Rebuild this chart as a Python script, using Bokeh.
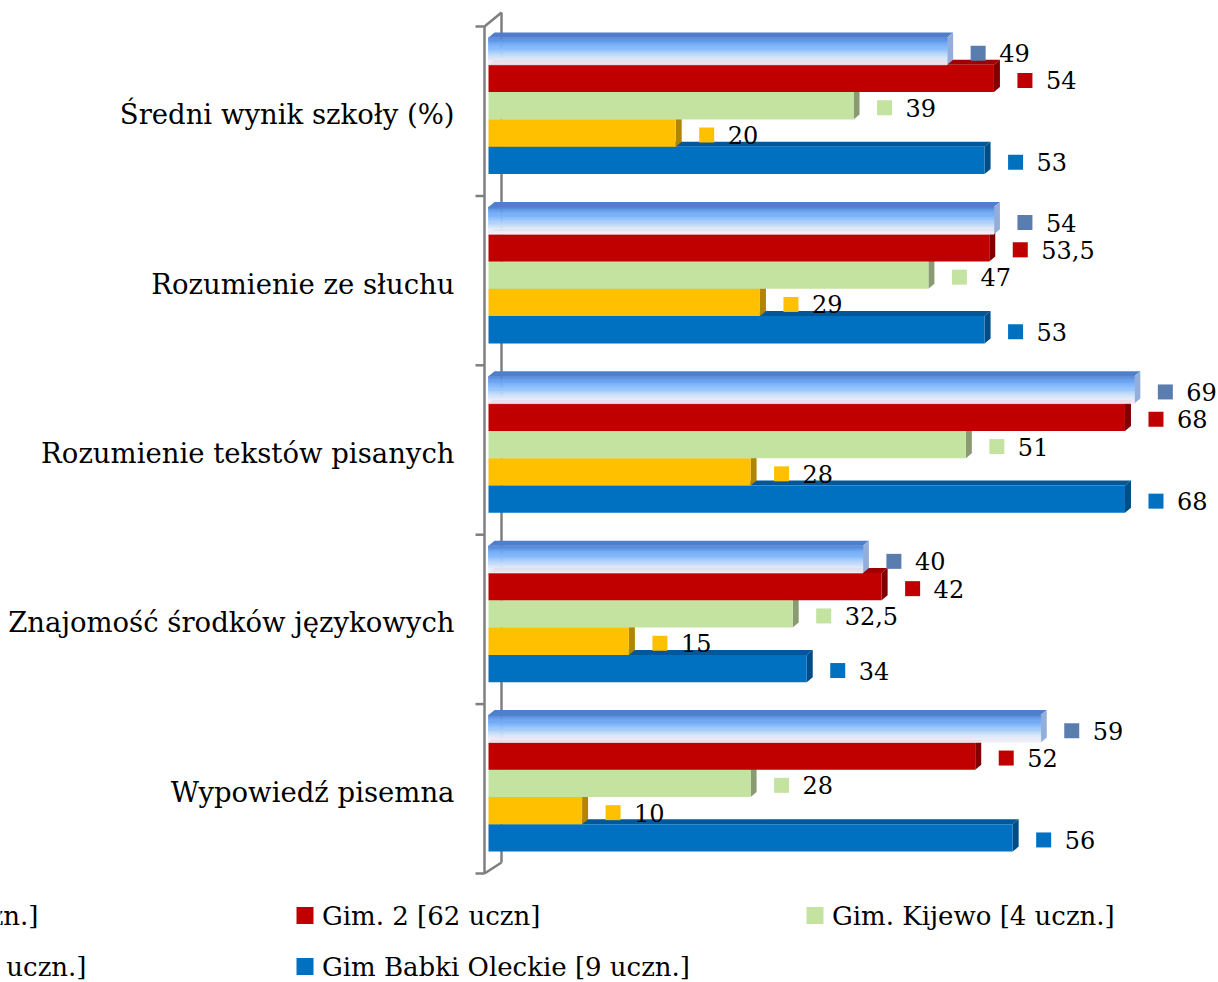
from bokeh.plotting import figure
from bokeh.models import Range1d
from bokeh.core.properties import value
from bokeh.embed import file_html
from bokeh.resources import INLINE

# ---------------- data ----------------
categories = ["Średni wynik szkoły (%)", "Rozumienie ze słuchu",
              "Rozumienie tekstów pisanych", "Znajomość środków językowych",
              "Wypowiedź pisemna"]
series_names = ["Gim. 1 [143 uczn.]", "Gim. 2 [62 uczn]", "Gim. Kijewo [4 uczn.]",
                "Gim. Judziki [7 uczn.]", "Gim Babki Oleckie [9 uczn.]"]
gim1 = [49, 54, 69, 40, 59]
gim2 = [54, 53.5, 68, 42, 52]
kijewo = [39, 47, 51, 32.5, 28]
judziki = [20, 29, 28, 15, 10]
babki = [53, 53, 68, 34, 56]
series_values = [gim1, gim2, kijewo, judziki, babki]

# ---------------- style ----------------
FONT = "DejaVu Serif"
front_col = [None, "#C00000", "#C4E3A0", "#FFC000", "#0070C0"]
side_col = ["#93AEDB", "#800000", "#8A9B72", "#B08500", "#004C86"]
top_col = ["#4F7FCB", "#9E0000", "#A8C488", "#D9A300", "#00589A"]
mark_col = ["#5A7DB0", "#C00000", "#C4E3A0", "#FFC000", "#0070C0"]
grad_anchor = [(0.0, (78, 128, 208)), (0.2, (108, 164, 242)), (0.4, (132, 186, 252)),
               (0.65, (190, 218, 248)), (0.85, (232, 236, 248)), (1.0, (244, 238, 248))]
N_STRIPS = 24


def grad_color(t):
    for (t0, c0), (t1, c1) in zip(grad_anchor[:-1], grad_anchor[1:]):
        if t <= t1:
            f = (t - t0) / (t1 - t0)
            return "#%02X%02X%02X" % tuple(int(round(a + (b - a) * f)) for a, b in zip(c0, c1))
    return "#%02X%02X%02X" % grad_anchor[-1][1]


grad_stops = [grad_color((k + 0.5) / N_STRIPS) for k in range(N_STRIPS)]

W, H = 1218, 982
X0 = 488.0       # pixel of value 0
PX_X = 9.36      # px per value unit
Y0 = 26.0        # pixel of first category boundary
PX_Y = 169.4     # px per category


def sx(px):
    return (px - X0) / PX_X


def sy(py):
    return (py - Y0) / PX_Y


BAR_OFF = 11 / PX_Y
BAR_H = 27.3 / PX_Y
DX = 6 / PX_X
DY = 5 / PX_Y


def fmt(v):
    return (str(int(v)) if float(v).is_integer() else str(v)).replace(".", ",")


p = figure(width=W, height=H, output_backend="svg", toolbar_location=None,
           x_range=Range1d(sx(0), sx(W)),
           y_range=Range1d(start=sy(H), end=sy(0)),
           x_axis_location=None, y_axis_location=None,
           min_border_left=0, min_border_right=0,
           min_border_top=0, min_border_bottom=0)
p.outline_line_color = None
p.xgrid.visible = False
p.ygrid.visible = False
p.background_fill_color = "white"
p.border_fill_color = "white"

n = len(categories)

# 3D wall (drawn first, behind bars)
wall_col = "#7F7F7F"
fx = sx(484)
bx = sx(501)
p.line([bx, bx], [sy(12), sy(862)], line_color=wall_col, line_width=2.5)
p.line([fx, bx], [0, sy(12)], line_color=wall_col, line_width=2.5)
p.line([fx, bx], [n, sy(862)], line_color=wall_col, line_width=2.5)
p.line([fx, fx], [0, n], line_color=wall_col, line_width=2.5)
p.segment(x0=[sx(475)] * (n + 1), x1=[fx] * (n + 1), y0=list(range(n + 1)),
          y1=list(range(n + 1)), line_color=wall_col, line_width=2.5)

# bars: paint from bottom series upward so upper bars hide the depth faces
for j in range(4, -1, -1):
    vals = series_values[j]
    tops = [i + BAR_OFF + j * BAR_H for i in range(n)]
    bots = [t + BAR_H for t in tops]
    p.patches(xs=[[0, DX, v + DX, v] for v in vals],
              ys=[[t, t - DY, t - DY, t] for t in tops],
              fill_color=top_col[j], line_color=None)
    p.patches(xs=[[v, v + DX, v + DX, v] for v in vals],
              ys=[[t, t - DY, b - DY, b] for t, b in zip(tops, bots)],
              fill_color=side_col[j], line_color=None)
    if j == 0:
        ns = len(grad_stops)
        L, R, T, B, C = [], [], [], [], []
        for v, t in zip(vals, tops):
            for k in range(ns):
                L.append(0); R.append(v)
                T.append(t + k * BAR_H / ns); B.append(t + (k + 1) * BAR_H / ns)
                C.append(grad_stops[k])
        p.quad(left=L, right=R, top=T, bottom=B, fill_color=C, line_color=C,
               line_width=0.6)
    else:
        p.quad(left=[0] * n, right=vals, top=tops, bottom=bots,
               fill_color=front_col[j], line_color=None)

# data labels
for j in range(5):
    vals = series_values[j]
    ys = [i + BAR_OFF + (j + 0.5) * BAR_H + 2 / PX_Y for i in range(n)]
    p.scatter(x=[v + 31 / PX_X for v in vals], y=ys, marker="square", size=15,
              fill_color=mark_col[j], line_color=None)
    p.text(x=[v + 52 / PX_X for v in vals], y=ys, text=[fmt(v) for v in vals],
           text_font=value(FONT), text_font_size="24px", text_color="black",
           text_baseline="middle", text_align="left")

# category labels
p.text(x=[sx(454)] * n, y=[i + 0.5 + 3 / PX_Y for i in range(n)], text=categories,
       text_font=value(FONT), text_font_size="27.5px", text_color="black",
       text_baseline="middle", text_align="right")

# ---------------- legend ----------------
col_marker = [-214 + 8.5, 304.5, 814.5]
row_y = [915, 966]
mx, my = [], []
for j in range(5):
    mx.append(sx(col_marker[j % 3]))
    my.append(sy(row_y[j // 3]))
p.scatter(x=mx, y=my, marker="square", size=17, fill_color=mark_col,
          line_color=None)
# first column is cut off by the left edge of the picture
p.text(x=[sx(38), sx(86)], y=[my[0], my[3]], text=[series_names[0], series_names[3]],
       text_font=value(FONT), text_font_size="26px", text_color="black",
       text_baseline="middle", text_align="right")
others = [1, 2, 4]
p.text(x=[mx[j] + 17 / PX_X for j in others], y=[my[j] for j in others],
       text=[series_names[j] for j in others], text_font=value(FONT),
       text_font_size="26px", text_color="black", text_baseline="middle",
       text_align="left")

open("out.html", "w").write(file_html(p, INLINE))
